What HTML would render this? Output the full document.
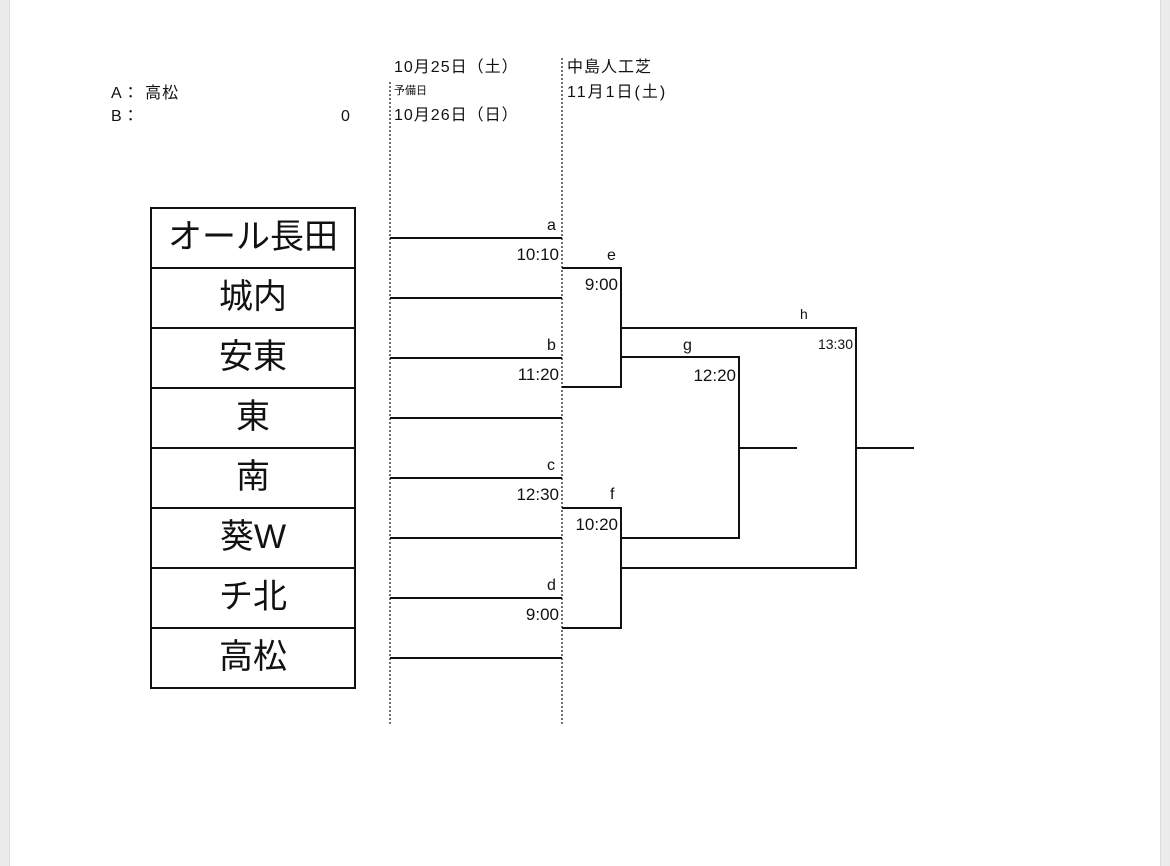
<!DOCTYPE html>
<html><head><meta charset="utf-8"><style>
body{margin:0;width:1170px;height:866px;background:#fff;position:relative;overflow:hidden;font-family:"Liberation Sans","Noto Sans CJK JP",sans-serif;color:#111}
.t{position:absolute;white-space:nowrap;line-height:1}
</style></head><body>
<div style="position:absolute;left:0;top:0;width:9px;height:866px;background:#ececec;border-right:1px solid #ddd"></div>
<div style="position:absolute;right:0;top:0;width:9px;height:866px;background:#ececec;border-left:1px solid #ddd"></div>
<div class="t" style="left:111px;top:86px;font-size:16px;letter-spacing:1px">A：&nbsp;高松</div>
<div class="t" style="left:111px;top:109px;font-size:16px;letter-spacing:1px">B：</div>
<div class="t" style="left:341px;top:109px;font-size:16px">0</div>
<div class="t" style="left:394px;top:60px;font-size:16px;letter-spacing:1px">10月25日（土）</div>
<div class="t" style="left:394px;top:86px;font-size:11px">予備日</div>
<div class="t" style="left:394px;top:108px;font-size:16px;letter-spacing:1px">10月26日（日）</div>
<div class="t" style="left:567px;top:60px;font-size:16px;letter-spacing:1px">中島人工芝</div>
<div class="t" style="left:567px;top:85px;font-size:16px;letter-spacing:2px">11月1日(土)</div>
<svg width="1170" height="866" style="position:absolute;left:0;top:0">
<g stroke="#111" stroke-width="1.2" stroke-dasharray="2,2"><line x1="390" y1="82" x2="390" y2="726"/><line x1="562" y1="58" x2="562" y2="726"/></g>
<g fill="none" stroke="#111" stroke-width="2">
<rect x="151" y="208" width="204" height="480"/>
<line x1="151" y1="268" x2="355" y2="268"/><line x1="151" y1="328" x2="355" y2="328"/><line x1="151" y1="388" x2="355" y2="388"/><line x1="151" y1="448" x2="355" y2="448"/><line x1="151" y1="508" x2="355" y2="508"/><line x1="151" y1="568" x2="355" y2="568"/><line x1="151" y1="628" x2="355" y2="628"/>
<line x1="390" y1="238" x2="562" y2="238"/><line x1="390" y1="298" x2="562" y2="298"/><line x1="390" y1="358" x2="562" y2="358"/><line x1="390" y1="418" x2="562" y2="418"/><line x1="390" y1="478" x2="562" y2="478"/><line x1="390" y1="538" x2="562" y2="538"/><line x1="390" y1="598" x2="562" y2="598"/><line x1="390" y1="658" x2="562" y2="658"/>
<polyline points="562,268 621,268 621,387 562,387"/>
<polyline points="562,508 621,508 621,628 562,628"/>
<polyline points="621,357 739,357 739,538 621,538"/>
<line x1="739" y1="448" x2="797" y2="448"/>
<polyline points="621,328 856,328 856,568 621,568"/>
<line x1="856" y1="448" x2="914" y2="448"/>
</g></svg>
<div class="t" style="left:151px;width:204px;text-align:center;top:220px;font-size:34px">オール長田</div>
<div class="t" style="left:151px;width:204px;text-align:center;top:280px;font-size:34px">城内</div>
<div class="t" style="left:151px;width:204px;text-align:center;top:340px;font-size:34px">安東</div>
<div class="t" style="left:151px;width:204px;text-align:center;top:400px;font-size:34px">東</div>
<div class="t" style="left:151px;width:204px;text-align:center;top:460px;font-size:34px">南</div>
<div class="t" style="left:151px;width:204px;text-align:center;top:520px;font-size:34px">葵W</div>
<div class="t" style="left:151px;width:204px;text-align:center;top:580px;font-size:34px">チ北</div>
<div class="t" style="left:151px;width:204px;text-align:center;top:640px;font-size:34px">高松</div>
<div class="t" style="left:547px;top:218px;font-size:16px">a</div>
<div class="t" style="left:500px;top:246px;width:59px;text-align:right;font-size:17px">10:10</div>
<div class="t" style="left:547px;top:338px;font-size:16px">b</div>
<div class="t" style="left:500px;top:366px;width:59px;text-align:right;font-size:17px">11:20</div>
<div class="t" style="left:547px;top:458px;font-size:16px">c</div>
<div class="t" style="left:500px;top:486px;width:59px;text-align:right;font-size:17px">12:30</div>
<div class="t" style="left:547px;top:578px;font-size:16px">d</div>
<div class="t" style="left:500px;top:606px;width:59px;text-align:right;font-size:17px">9:00</div>
<div class="t" style="left:607px;top:248px;font-size:16px">e</div>
<div class="t" style="left:560px;top:276px;width:58px;text-align:right;font-size:17px">9:00</div>
<div class="t" style="left:610px;top:487px;font-size:16px">f</div>
<div class="t" style="left:560px;top:516px;width:58px;text-align:right;font-size:17px">10:20</div>
<div class="t" style="left:683px;top:338px;font-size:16px">g</div>
<div class="t" style="left:670px;top:367px;width:66px;text-align:right;font-size:17px">12:20</div>
<div class="t" style="left:800px;top:307px;font-size:14px">h</div>
<div class="t" style="left:790px;top:337px;width:63px;text-align:right;font-size:14px">13:30</div>
</body></html>
